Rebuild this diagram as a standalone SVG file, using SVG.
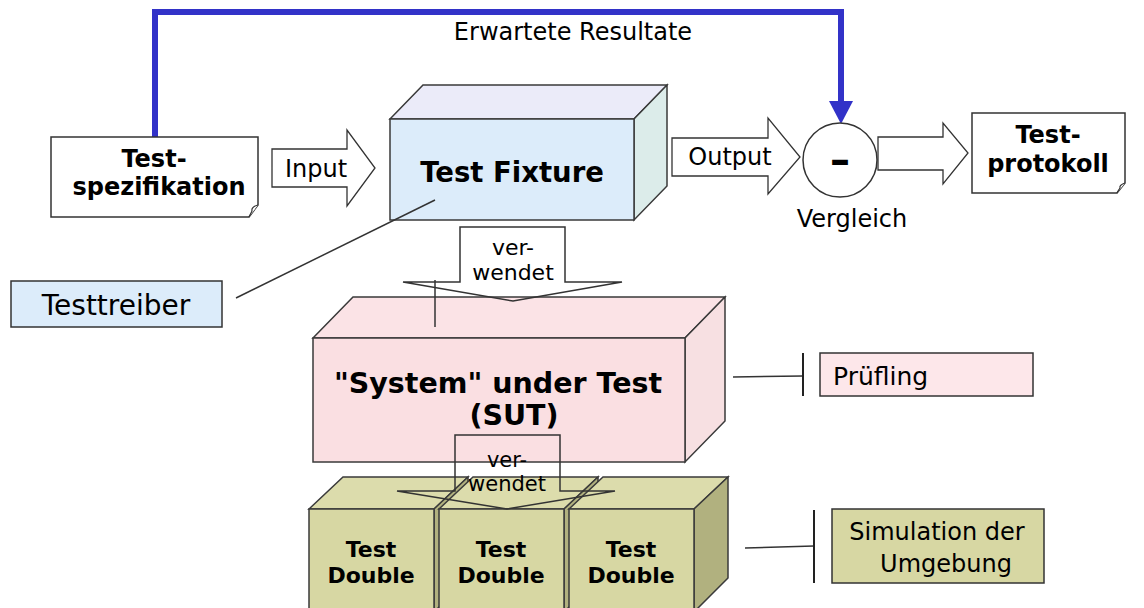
<svg xmlns="http://www.w3.org/2000/svg" width="1144" height="608" viewBox="0 0 1144 608">
<style>
text{font-family:"DejaVu Sans","Verdana",sans-serif;fill:#000}
.b{font-weight:bold}
.m{text-anchor:middle}
.ln{stroke:#333;stroke-width:1.5;fill:none}
.doc{fill:#fff;stroke:#333;stroke-width:1.5}
.blk{fill:#fff;stroke:#333;stroke-width:1.3}
.edge{stroke:#3a3a3a;stroke-width:1.5}
.td-f{fill:#d7d7a3}
.td-t{fill:#dcdcac}
.td-s{fill:#b1b17f}
</style>
<rect width="1144" height="608" fill="#fff"/>

<g id="connectors">
  <polyline points="155,137 155,12 841,12 841,102" fill="none" stroke="#3232c8" stroke-width="6"/>
  <polygon points="829,101 853,101 841,124" fill="#3232c8"/>
  <line class="ln" x1="733" y1="377" x2="803" y2="376"/>
  <line x1="803" y1="353" x2="803" y2="396" stroke="#222" stroke-width="2"/>
  <line class="ln" x1="745" y1="548" x2="814" y2="546"/>
  <line x1="814" y1="510" x2="814" y2="583" stroke="#222" stroke-width="2"/>
</g>

<g id="erwartete-label">
  <text class="m" x="573" y="40" font-size="24">Erwartete Resultate</text>
</g>

<g id="testspezifikation">
  <path class="doc" d="M51,137 H258 V205 L249,217 H51 Z"/>
  <path d="M258,205 Q251,207 252,211 Q250,215 249,217" fill="#fff" stroke="#333" stroke-width="1.2"/>
  <text class="b m" x="154" y="167" font-size="24">Test-</text>
  <text class="b m" x="159" y="195" font-size="24">spezifikation</text>
</g>

<g id="input-arrow">
  <polygon class="blk" points="272,149 347,149 347,130 375,168 347,206 347,187 272,187"/>
  <text class="m" x="316" y="177" font-size="24">Input</text>
</g>

<g id="test-fixture">
  <polygon points="390,119 423,85 667,85 634,119" fill="#ebebf9" class="edge"/>
  <polygon points="634,119 667,85 667,186 634,220" fill="#dcecea" class="edge"/>
  <rect x="390" y="119" width="244" height="101" fill="#dcecfa" class="edge"/>
  <text class="b m" x="512" y="182" font-size="27.5">Test Fixture</text>
</g>

<g id="output-arrow">
  <polygon class="blk" points="672,138 768,138 768,118 800,157 768,194 768,176 672,176"/>
  <text class="m" x="730" y="165" font-size="24">Output</text>
</g>

<g id="vergleich">
  <ellipse cx="840" cy="160" rx="37" ry="37" fill="#fff" stroke="#333" stroke-width="1.5"/>
  <text class="b m" x="840" y="174" font-size="40">–</text>
  <text class="m" x="852" y="227" font-size="24">Vergleich</text>
</g>

<g id="result-arrow">
  <polygon class="blk" points="878,137 943,137 943,123 968,153 943,184 943,170 878,170"/>
</g>

<g id="testprotokoll">
  <path class="doc" d="M972,113 H1125 V183 L1117,193 H972 Z"/>
  <path d="M1125,183 Q1119,185 1120,188 Q1118,191 1117,193" fill="#fff" stroke="#333" stroke-width="1.2"/>
  <text class="b m" x="1048" y="143" font-size="24">Test-</text>
  <text class="b m" x="1048" y="172" font-size="24">protokoll</text>
</g>

<g id="testtreiber">
  <rect x="11" y="281" width="211" height="46" fill="#dcecfa" stroke="#333" stroke-width="1.5"/>
  <text class="m" x="116" y="315" font-size="28">Testtreiber</text>
</g>

<g id="sut">
  <polygon points="313,338 353,297 725,297 685,338" fill="#fbe3e6" class="edge"/>
  <polygon points="685,338 725,297 725,421 685,462" fill="#f7e0e2" class="edge"/>
  <rect x="313" y="338" width="372" height="124" fill="#fadfe2" class="edge"/>
  <text class="b m" x="498" y="393" font-size="28.5">"System" under Test</text>
  <text class="b m" x="514" y="425" font-size="28.5">(SUT)</text>
</g>

<g id="leader-lines">
  <line class="ln" x1="236" y1="298" x2="435" y2="200"/>
  <line class="ln" x1="435" y1="280" x2="435" y2="327"/>
</g>

<g id="verwendet-1">
  <polygon class="ln" points="460,227 565,227 565,282 622,282 513,301 403,282 460,282"/>
  <text class="m" x="513" y="255" font-size="22">ver-</text>
  <text class="m" x="513" y="280" font-size="22">wendet</text>
</g>

<g id="test-double-1">
  <polygon class="td-t edge" points="309,509 343,477 468,477 434,509"/>
  <polygon class="td-s edge" points="434,509 468,477 468,578 434,612"/>
  <rect class="td-f edge" x="309" y="509" width="125" height="110"/>
  <text class="b m" x="371" y="557" font-size="22">Test</text>
  <text class="b m" x="371" y="583" font-size="22">Double</text>
</g>
<g id="test-double-2">
  <polygon class="td-t edge" points="439,509 473,477 598,477 564,509"/>
  <polygon class="td-s edge" points="564,509 598,477 598,578 564,612"/>
  <rect class="td-f edge" x="439" y="509" width="125" height="110"/>
  <text class="b m" x="501" y="557" font-size="22">Test</text>
  <text class="b m" x="501" y="583" font-size="22">Double</text>
</g>
<g id="test-double-3">
  <polygon class="td-t edge" points="569,509 603,477 728,477 694,509"/>
  <polygon class="td-s edge" points="694,509 728,477 728,578 694,612"/>
  <rect class="td-f edge" x="569" y="509" width="125" height="110"/>
  <text class="b m" x="631" y="557" font-size="22">Test</text>
  <text class="b m" x="631" y="583" font-size="22">Double</text>
</g>

<g id="verwendet-2">
  <polygon class="ln" points="455,435 560,435 560,491 615,491 507,509 397,491 455,491"/>
  <text class="m" x="507" y="467" font-size="21">ver-</text>
  <text class="m" x="507" y="491" font-size="21">wendet</text>
</g>

<g id="pruefling">
  <rect x="820" y="353" width="213" height="43" fill="#fde7ea" stroke="#333" stroke-width="1.5"/>
  <text x="833" y="385" font-size="25">Prüfling</text>
</g>

<g id="simulation">
  <rect x="832" y="509" width="212" height="74" fill="#d7d7a3" stroke="#333" stroke-width="1.5"/>
  <text class="m" x="937" y="540" font-size="24">Simulation der</text>
  <text class="m" x="946" y="572" font-size="24">Umgebung</text>
</g>
</svg>
